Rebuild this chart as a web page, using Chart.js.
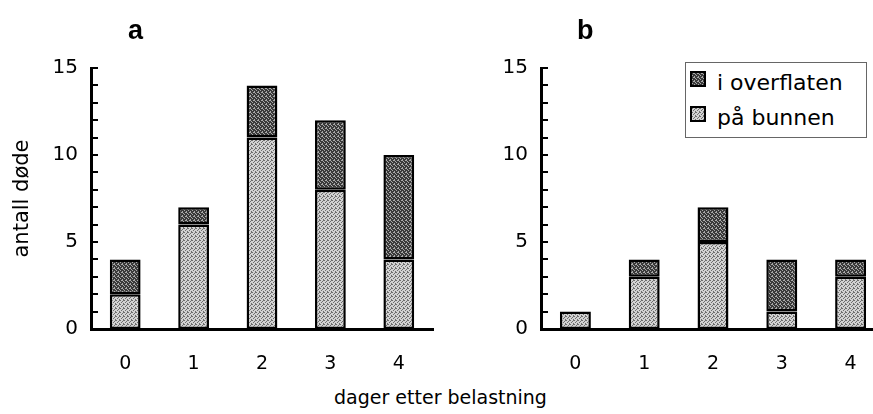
<!DOCTYPE html>
<html>
<head>
<meta charset="utf-8">
<script src="https://cdn.jsdelivr.net/npm/chart.js@4/dist/chart.umd.min.js"></script>
<style>
  html, body { margin: 0; padding: 0; background: #fff; overflow: hidden; }
  body { width: 873px; height: 414px; position: relative; font-family: "DejaVu Sans", sans-serif; }
  .wrap { position: absolute; top: 0; height: 380px; width: 440px; }
  #wa { left: 0; }
  #wb { left: 450px; }
  .panel { position: absolute; font-family: "Liberation Sans", Arial, sans-serif; font-weight: bold; font-size: 27px; }
  #xtitle { position: absolute; top: 386px; left: 4px; width: 873px; text-align: center; font-size: 19px; }
  #legend { position: absolute; left: 685px; top: 62px; width: 180px; height: 74px; border: 1px solid #666; background: #fff; }
  .row { position: absolute; left: 4px; font-size: 22px; line-height: 26px; }
  .sw { display: inline-block; width: 12px; height: 12px; border: 2px solid #000; vertical-align: 3px; margin-right: 11px; }
</style>
</head>
<body>
<div class="wrap" id="wa"><canvas id="chartA"></canvas></div>
<div class="wrap" id="wb"><canvas id="chartB"></canvas></div>
<div class="panel" style="left:128px;top:15px">a</div>
<div class="panel" style="left:577px;top:15px">b</div>
<div id="xtitle">dager etter belastning</div>
<div id="legend">
  <div class="row" style="top:7px"><span class="sw" id="swTop"></span>i overflaten</div>
  <div class="row" style="top:42px"><span class="sw" id="swBottom"></span>på bunnen</div>
</div>
<script>
// dager etter belastning
const dager = ["0", "1", "2", "3", "4"];

// a
const bunnenA = [2, 6, 11, 8, 4];
const overflatenA = [2, 1, 3, 4, 6];

// b
const bunnenB = [1, 3, 5, 1, 3];
const overflatenB = [0, 1, 2, 3, 1];

const yMax = 15;
const yLabels = [0, 5, 10, 15];

// dithered grey fill, like the old print
function dither(bg, fg, mask) {
  const c = document.createElement("canvas");
  c.width = 4; c.height = 4;
  const x = c.getContext("2d");
  x.fillStyle = bg;
  x.fillRect(0, 0, 4, 4);
  x.fillStyle = fg;
  mask.forEach(([i, j]) => x.fillRect(i, j, 1, 1));
  return c;
}
const lightTile = dither("#d2d2d2", "#6e6e6e", [[0,0],[2,1],[1,2],[3,3],[3,0]]);
const darkTile = dither("#3a3a3a", "#a8a8a8", [[1,0],[3,1],[0,2],[2,3],[2,0]]);

const tmp = document.createElement("canvas").getContext("2d");
const lightFill = tmp.createPattern(lightTile, "repeat");
const darkFill = tmp.createPattern(darkTile, "repeat");

document.getElementById("swTop").style.background = `url(${darkTile.toDataURL()})`;
document.getElementById("swBottom").style.background = `url(${lightTile.toDataURL()})`;

// small ticks pointing into the plot
const innerTicks = {
  id: "innerTicks",
  afterDraw(chart) {
    const y = chart.scales.y;
    const ctx = chart.ctx;
    const left = chart.chartArea.left;
    ctx.save();
    ctx.strokeStyle = "#000";
    ctx.lineWidth = 2;
    for (let v = 0; v <= yMax; v++) {
      const py = Math.round(y.getPixelForValue(v));
      ctx.beginPath();
      ctx.moveTo(left, py);
      ctx.lineTo(left + 7, py);
      ctx.stroke();
    }
    ctx.restore();
  }
};

function makeChart(id, bunnen, overflaten, showYTitle) {
  return new Chart(document.getElementById(id), {
    type: "bar",
    data: {
      labels: dager,
      datasets: [
        { label: "på bunnen", data: bunnen, backgroundColor: lightFill },
        { label: "i overflaten", data: overflaten, backgroundColor: darkFill }
      ]
    },
    options: {
      responsive: true,
      maintainAspectRatio: false,
      animation: false,
      layout: { padding: { top: 68, right: showYTitle ? 7 : 5, left: 0, bottom: 0 } },
      datasets: {
        bar: {
          borderColor: "#000",
          borderWidth: 2.5,
          borderSkipped: false,
          categoryPercentage: 1,
          barPercentage: 0.45
        }
      },
      plugins: { legend: { display: false }, tooltip: { enabled: false } },
      scales: {
        x: {
          stacked: true,
          offset: true,
          grid: { display: false, drawTicks: false },
          border: { display: true, color: "#000", width: 3 },
          ticks: { color: "#000", padding: 24, font: { family: "DejaVu Sans", size: 19 } },
          afterFit: s => { s.height = 51; }
        },
        y: {
          stacked: true,
          min: 0,
          max: yMax,
          grid: { display: false, drawTicks: false },
          border: { display: true, color: "#000", width: 3 },
          ticks: {
            stepSize: 1,
            color: "#000",
            padding: 13,
            autoSkip: false,
            font: { family: "DejaVu Sans", size: 20 },
            callback: v => yLabels.includes(v) ? String(v) : ""
          },
          title: {
            display: showYTitle,
            text: "antall døde",
            color: "#000",
            padding: { top: 10, bottom: 0 },
            font: { family: "DejaVu Sans", size: 21 }
          },
          afterFit: s => { s.width = 91; }
        }
      }
    },
    plugins: [innerTicks]
  });
}

makeChart("chartA", bunnenA, overflatenA, true);
makeChart("chartB", bunnenB, overflatenB, false);
</script>
</body>
</html>
